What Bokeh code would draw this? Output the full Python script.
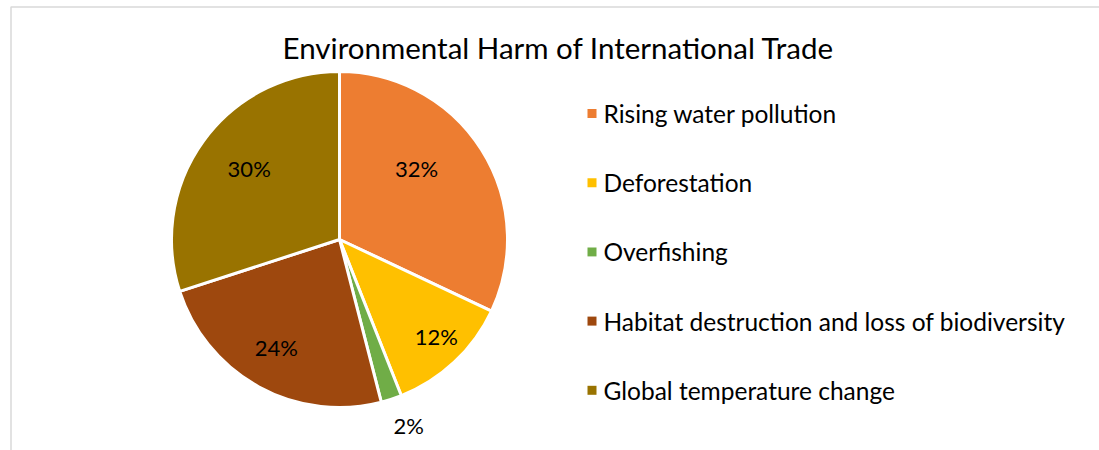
import numpy as np
from bokeh.plotting import figure
from bokeh.models import Range1d, ColumnDataSource
from bokeh.core.properties import value
from bokeh.embed import file_html
from bokeh.resources import INLINE

title = "Environmental Harm of International Trade"
categories = ["Rising water pollution", "Deforestation", "Overfishing",
              "Habitat destruction and loss of biodiversity", "Global temperature change"]
values = [32, 12, 2, 24, 30]
labels = ["32%", "12%", "2%", "24%", "30%"]
colors = ["#ED7D31", "#FFC000", "#70AD47", "#9E480E", "#997300"]

# label placement style (radius factor, angle nudge in degrees), Excel "best fit"-like
label_rfac = [0.625, 0.815, 1.18, 0.745, 0.685]
label_dang = [10.3, 1.8, 2.4, -1.5, -2.3]

W, H = 1099, 450
FONT = "Lato"

p = figure(width=W, height=H, output_backend="svg", toolbar_location=None,
           x_range=Range1d(0, W), y_range=Range1d(0, H), min_border=0)
p.axis.visible = False
p.grid.visible = False
p.outline_line_color = None
p.background_fill_color = "white"
p.border_fill_color = "white"

def Y(py):
    return H - py

# chart border (top and left visible)
p.line(x=[10.5, 10.5, W + 5], y=[Y(H + 5), Y(6.5), Y(6.5)], line_color="#d9d9d9", line_width=1.5)

cx, cy, r = 339, 239, 168
vals = np.array(values, dtype=float)
frac = vals / vals.sum()
cum = np.concatenate([[0], np.cumsum(frac)])
start = np.pi / 2 - cum[:-1] * 2 * np.pi
end = np.pi / 2 - cum[1:] * 2 * np.pi
mid = (start + end) / 2

src = ColumnDataSource(dict(start=start, end=end, color=colors))
p.wedge(x=cx, y=Y(cy), radius=r, start_angle="start", end_angle="end", direction="clock",
        fill_color="color", line_color="white", line_width=3, source=src)

ang = mid + np.radians(label_dang)
lr = r * np.array(label_rfac)
lx = cx + lr * np.cos(ang)
ly = Y(cy) + lr * np.sin(ang)
p.text(x=lx, y=ly, text=labels, text_font=value(FONT), text_font_size="22px",
       text_align="center", text_baseline="middle", text_color="#000000")

p.text(x=[558], y=[Y(47)], text=[title], text_font=value(FONT), text_font_size="29.5px",
       text_align="center", text_baseline="middle", text_color="#000000")

# legend
ly0, dly = 113, 69.2
lys = [Y(ly0 + i * dly) for i in range(len(categories))]
p.rect(x=[591.5] * len(categories), y=lys, width=9, height=9, fill_color=colors, line_color=None)
p.text(x=[603] * len(categories), y=lys, text=categories, text_font=value(FONT),
       text_font_size="24.5px", text_align="left", text_baseline="middle", text_color="#000000")

open("out.html", "w").write(file_html(p, INLINE))
